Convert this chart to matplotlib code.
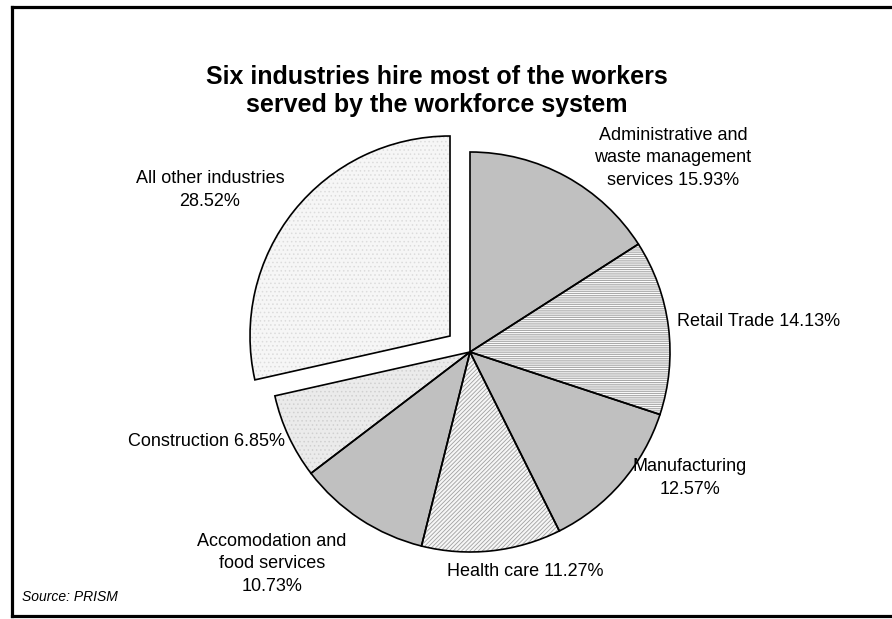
import matplotlib
matplotlib.use("Agg")
import matplotlib.pyplot as plt
from matplotlib.lines import Line2D

plt.rcParams['font.family'] = ['Liberation Sans', 'DejaVu Sans']
plt.rcParams['hatch.linewidth'] = 0.6

# Share of workers served, by industry (percent)
industries = [
    "Administrative and\nwaste management\nservices",
    "Retail Trade",
    "Manufacturing",
    "Health care",
    "Accomodation and\nfood services",
    "Construction",
    "All other industries",
]
shares = [15.93, 14.13, 12.57, 11.27, 10.73, 6.85, 28.52]
label_sep = ["\u0020", "\u0020", "\n", "\u0020", "\n", "\u0020", "\n"]

# Slice styling
face_colors = ["#c0c0c0", "#ffffff", "#c0c0c0", "#f6f6f6", "#c0c0c0", "#ebebeb", "#f6f6f6"]
hatch_colors = ["#c0c0c0", "#999999", "#c0c0c0", "#a0a0a0", "#c0c0c0", "#d0d0d0", "#dcdcdc"]
hatches = [None, "---------", None, "////////", None, "....", "...."]
explode = [0, 0, 0, 0, 0, 0, 0.128]

# Label anchor points (axis units, pie radius = 1) and alignment
label_xy = [(1.015, 0.97), (1.035, 0.15), (1.10, -0.63), (0.275, -1.10),
            (-0.99, -1.06), (-0.925, -0.445), (-1.30, 0.81)]
label_ha = ["center", "left", "center", "center", "center", "right", "center"]

W, H, DPI = 892, 619, 100
fig = plt.figure(figsize=(W / DPI, H / DPI), dpi=DPI)
ax = fig.add_axes([0, 0, 1, 1])

# Filled, textured wedges
wedges, _ = ax.pie(shares, startangle=90, counterclock=False, explode=explode,
                   radius=1.0, center=(0, 0), frame=True,
                   wedgeprops=dict(linewidth=0))
for w, fc, hc, h in zip(wedges, face_colors, hatch_colors, hatches):
    w.set_facecolor(fc)
    w.set_edgecolor(hc)
    if h:
        w.set_hatch(h)

# Black outlines on top
outl, _ = ax.pie(shares, startangle=90, counterclock=False, explode=explode,
                 radius=1.0, center=(0, 0), frame=True,
                 wedgeprops=dict(fill=False, edgecolor="black", linewidth=1.2))
ax.set_xlim(-470 / 200, (W - 470) / 200)
ax.set_ylim(-(H - 352) / 200, 352 / 200)
ax.set_aspect("auto")
ax.axis("off")

for name, val, sep, (x, y), ha in zip(industries, shares, label_sep, label_xy, label_ha):
    ax.text(x, y, f"{name}{sep}{val:.2f}%", ha=ha, va="center", multialignment="center",
            fontsize=13, linespacing=1.42, color="black")

fig.text(437 / W, 1 - 91 / H,
         "Six industries hire most of the workers\nserved by the workforce system",
         ha="center", va="center", fontsize=18, fontweight="bold", linespacing=1.25)
fig.text(22 / W, 1 - 597 / H, "Source: PRISM", ha="left", va="center",
         fontsize=10, style="italic")

# Frame lines around the chart
for xs, ys in [((11.5 / W, 1.0), (1 - 6.5 / H, 1 - 6.5 / H)),
               ((11.5 / W, 11.5 / W), (1 - 6.5 / H, 1 - 615.5 / H)),
               ((11.5 / W, 1.0), (1 - 615.5 / H, 1 - 615.5 / H))]:
    fig.add_artist(Line2D(xs, ys, transform=fig.transFigure, color="black",
                          linewidth=2.3, solid_capstyle="projecting"))

fig.savefig("out.png", dpi=DPI)
